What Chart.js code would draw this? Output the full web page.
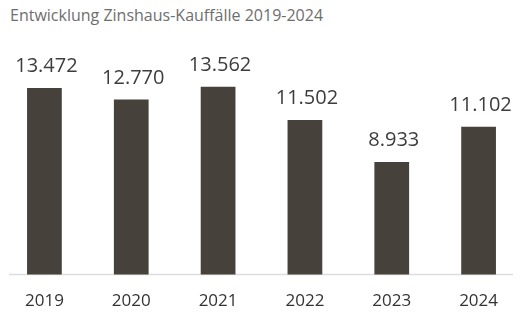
<!DOCTYPE html>
<html>
<head>
<meta charset="utf-8">
<script src="https://cdn.jsdelivr.net/npm/chart.js@4/dist/chart.umd.min.js"></script>
<style>
  html, body { margin: 0; padding: 0; background: #ffffff; }
  #wrap { position: relative; width: 532px; height: 327px; }
  #title { position: absolute; left: 10px; top: 4px; font-family: "Open Sans", sans-serif; font-size: 16px; color: #6e6e6e; white-space: nowrap; }
  canvas { position: absolute; left: 0; top: 0; }
</style>
</head>
<body>
<div id="wrap">
  <div id="title">Entwicklung Zinshaus-Kauffälle 2019-2024</div>
  <canvas id="c" width="532" height="327"></canvas>
</div>
<script>
const categories = ["2019", "2020", "2021", "2022", "2023", "2024"];
const purchases = [13472, 12770, 13562, 11502, 8933, 11102];

const fmt = new Intl.NumberFormat('de-DE');

const baselinePlugin = {
  id: 'baseline',
  beforeDatasetsDraw(chart) {
    const { ctx, chartArea } = chart;
    ctx.save();
    ctx.strokeStyle = '#dddddd';
    ctx.lineWidth = 1.5;
    ctx.beginPath();
    ctx.moveTo(chartArea.left + 8, chartArea.bottom);
    ctx.lineTo(chartArea.right - 9, chartArea.bottom);
    ctx.stroke();
    ctx.restore();
  }
};

const valueLabels = {
  id: 'valueLabels',
  afterDatasetsDraw(chart) {
    const { ctx } = chart;
    const meta = chart.getDatasetMeta(0);
    ctx.save();
    ctx.font = '20px "Open Sans", sans-serif';
    ctx.fillStyle = '#3d3d3d';
    ctx.textAlign = 'center';
    ctx.textBaseline = 'alphabetic';
    meta.data.forEach((bar, i) => {
      ctx.fillText(fmt.format(chart.data.datasets[0].data[i]), bar.x + 2, bar.y - 16);
    });
    ctx.restore();
  }
};

new Chart(document.getElementById('c'), {
  type: 'bar',
  data: {
    labels: categories,
    datasets: [{
      data: purchases,
      backgroundColor: '#46413b',
      borderWidth: 0,
      barPercentage: 0.4,
      categoryPercentage: 1.0
    }]
  },
  options: {
    responsive: false,
    animation: false,
    layout: { padding: { top: 47, left: 1, right: 10, bottom: 0 } },
    plugins: { legend: { display: false }, tooltip: { enabled: false }, title: { display: false } },
    scales: {
      x: {
        grid: { display: false, drawTicks: false },
        border: { display: false },
        ticks: { color: '#333333', font: { family: '"Open Sans", sans-serif', size: 17 }, padding: 16 }
      },
      y: {
        display: false,
        min: 2000,
        max: 16000
      }
    }
  },
  plugins: [baselinePlugin, valueLabels]
});
</script>
</body>
</html>
